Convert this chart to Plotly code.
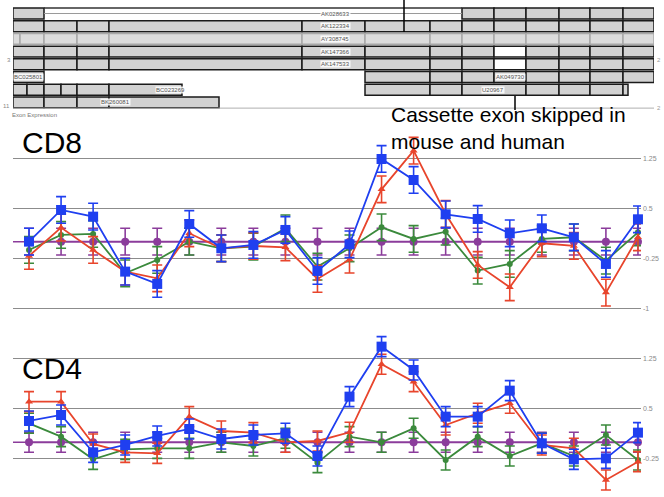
import plotly.graph_objects as go

# ---------------- exon structure (positions in relative genomic units) ----------------
tx_names = ["AK028633", "AK122334", "AY308745", "AK147366", "AK147533",
            "BC025801", "AK049730", "BC023269", "U20967", "BK260081"]
tx_rows = [1, 2, 3, 4, 5, 6, 6, 7, 7, 8]
tx_label_pos = [322, 322, 322, 322, 322, 15, 497, 157, 480, 102]
tx_exons = [
    [(0, 31), (449, 481), (481, 513), (513, 546), (546, 577), (577, 610), (610, 641)],
    [(0, 31), (31, 64), (64, 96), (96, 289), (289, 352), (352, 417), (417, 449),
     (449, 481), (481, 513), (513, 546), (546, 577), (577, 610), (610, 641)],
    [(0, 7), (7, 31), (31, 64), (64, 96), (96, 289), (289, 352), (352, 417), (417, 449),
     (449, 481), (481, 513), (513, 546), (546, 577), (577, 610), (610, 641)],
    [(0, 31), (31, 64), (64, 96), (96, 289), (289, 352), (352, 417), (417, 449),
     (449, 481), (481, 513), (513, 546), (546, 577), (577, 610), (610, 641)],
    [(0, 31), (31, 64), (64, 96), (96, 289), (289, 352), (352, 417), (417, 449),
     (449, 481), (481, 513), (513, 546), (546, 577), (577, 610), (610, 641)],
    [(0, 31)],
    [(352, 417), (417, 449), (449, 481), (481, 513), (513, 546), (546, 577), (577, 610), (610, 641)],
    [(0, 14), (14, 31), (31, 48), (48, 64), (64, 96), (96, 169)],
    [(352, 417), (417, 449), (449, 513), (513, 546), (546, 577), (577, 610), (610, 615)],
    [(0, 31), (31, 64), (64, 96), (96, 206)],
]
# transcripts that skip the cassette exon
skipped_exon = (481, 513)
skipping_tx = ["AK147366", "AK147533"]
faint_tx = ["AY308745"]
gene_span = (0, 641)

# ---------------- exon expression ----------------
exon_index = list(range(1, 21))

cd8_blue = [0.0, 0.475, 0.375, -0.45, -0.635, 0.265, -0.1, -0.05, 0.175, -0.44,
            -0.04, 1.24, 0.925, 0.41, 0.34, 0.125, 0.2, 0.065, -0.335, 0.335]
cd8_red = [-0.215, 0.21, -0.125, -0.45, -0.55, 0.125, -0.1, -0.065, -0.085, -0.56,
           -0.27, 0.785, 1.365, 0.415, -0.35, -0.685, -0.025, -0.065, -0.765, 0.065]
cd8_green = [-0.125, 0.1, 0.115, -0.475, -0.275, 0.0, -0.1, -0.075, 0.2, -0.375,
             -0.1, 0.215, 0.04, 0.15, -0.435, -0.335, 0.04, 0.065, -0.285, 0.14]
cd8_purple = [0.0] * 20
cd8_sem = 0.2

cd4_blue = [0.32, 0.41, -0.15, -0.04, 0.095, 0.2, 0.05, 0.11, 0.135, -0.205,
            0.685, 1.435, 1.085, 0.385, 0.385, 0.775, -0.015, -0.255, -0.24, 0.145]
cd4_red = [0.61, 0.61, -0.025, -0.15, -0.165, 0.385, 0.17, 0.145, 0.0, 0.02,
           0.15, 1.17, 0.91, 0.26, 0.435, 0.585, -0.04, -0.09, -0.565, -0.29]
cd4_green = [0.285, 0.085, -0.255, -0.105, -0.09, -0.09, 0.0, -0.055, 0.06, -0.305,
             0.085, 0.0, 0.21, -0.265, 0.085, -0.205, -0.015, -0.205, 0.11, -0.265]
cd4_purple = [0.0] * 20
cd4_sem = 0.15

tick_vals = [-1, -0.25, 0.5, 1.25]
tick_text = ["-1", "-0.25", "0.5", "1.25"]

W, H = 664, 497
BLUE, RED, GREEN, PURPLE = "#1f3ff0", "#e8452c", "#3b8a3c", "#8b3c9b"

fig = go.Figure()

# gene model: exons as horizontal bars
bx, bbase, by, bfill, bline = [], [], [], [], []
for name, row, exons in zip(tx_names, tx_rows, tx_exons):
    for s, e in exons:
        bx.append(e - s)
        bbase.append(s)
        by.append(row)
        skipped = name in skipping_tx and (s, e) == skipped_exon
        bfill.append("#ffffff" if skipped else ("#dcdcdc" if name in faint_tx else "#d2d2d2"))
        bline.append("#a8a8a8" if name in faint_tx else "#1a1a1a")

# intron of the first transcript
fig.add_trace(go.Scatter(x=[31, 449], y=[1, 1], mode="lines",
                         line=dict(color="#9a9a9a", width=1),
                         xaxis="x3", yaxis="y3", hoverinfo="skip", showlegend=False))
fig.add_trace(go.Scatter(x=[31, 449], y=[0.57, 0.57], mode="lines",
                         line=dict(color="#333333", width=1.5),
                         xaxis="x3", yaxis="y3", hoverinfo="skip", showlegend=False))
fig.add_trace(go.Bar(x=bx, base=bbase, y=by, orientation="h", width=0.86,
                     marker=dict(color=bfill, line=dict(color=bline, width=1.5)),
                     xaxis="x3", yaxis="y3", hoverinfo="skip", showlegend=False))
# baseline under the gene model
fig.add_trace(go.Scatter(x=list(gene_span), y=[8.45, 8.45], mode="lines",
                         line=dict(color="#b0b0b0", width=1),
                         xaxis="x3", yaxis="y3", hoverinfo="skip", showlegend=False))

for name, row, pos in zip(tx_names, tx_rows, tx_label_pos):
    fig.add_annotation(x=pos, y=row, xref="x3", yref="y3", text=name, showarrow=False,
                       font=dict(size=6, color="#555555", family="Liberation Sans"),
                       bgcolor="rgba(255,255,255,0.85)", borderpad=0)


def add_panel(values, colors, symbols, sizes, sem, xa, ya):
    for vals, col, sym, sz in zip(values, colors, symbols, sizes):
        fig.add_trace(go.Scatter(
            x=exon_index, y=vals, mode="lines+markers",
            line=dict(color=col, width=1.8),
            marker=dict(color=col, symbol=sym, size=sz),
            error_y=dict(type="constant", value=sem, color=col, thickness=1.6, width=5),
            xaxis=xa, yaxis=ya, hoverinfo="skip", showlegend=False, cliponaxis=False))


panel_colors = [PURPLE, GREEN, RED, BLUE]
panel_symbols = ["circle", "circle", "triangle-up", "square"]
panel_sizes = [8, 6, 7, 10]
add_panel([cd8_purple, cd8_green, cd8_red, cd8_blue], panel_colors, panel_symbols,
          panel_sizes, cd8_sem, "x", "y")
add_panel([cd4_purple, cd4_green, cd4_red, cd4_blue], panel_colors, panel_symbols,
          panel_sizes, cd4_sem, "x2", "y2")

# purple reference line at zero in both panels
for ya in ["y", "y2"]:
    fig.add_shape(type="line", xref="x domain" if ya == "y" else "x2 domain", yref=ya,
                  x0=0, x1=1, y0=0, y1=0, line=dict(color=PURPLE, width=1.5), layer="below")

# callout lines
fig.add_shape(type="line", xref="x3", yref="y3", x0=391, x1=391, y0=-0.07, y1=2.45,
              line=dict(color="#000000", width=1.5))
fig.add_shape(type="line", xref="x3", yref="y3", x0=502, x1=502, y0=7.5, y1=8.62,
              line=dict(color="#000000", width=1.5))

xdom = [13 / W, 641 / W]
xr = [0.5, 20.095]
axis_common = dict(showgrid=False, zeroline=False, showline=False, showticklabels=False,
                   ticks="", fixedrange=True)
yaxis_common = dict(showgrid=True, gridcolor="#8c8c8c", gridwidth=1.3, zeroline=False,
                    showline=False, ticks="", side="right", tickvals=tick_vals,
                    ticktext=tick_text, tickfont=dict(size=7, color="#8a8a8a",
                                                      family="Liberation Sans"),
                    ticklabelstandoff=1, fixedrange=True)

fig.update_layout(
    width=W, height=H, margin=dict(l=0, r=0, t=0, b=0),
    paper_bgcolor="white", plot_bgcolor="rgba(0,0,0,0)",
    font=dict(family="Liberation Sans"),
    barmode="overlay",
    xaxis=dict(domain=xdom, range=xr, anchor="y", **axis_common),
    yaxis=dict(domain=[1 - 311.6 / H, 1 - 135 / H], range=[-1.05, 1.6], anchor="x",
               **yaxis_common),
    xaxis2=dict(domain=xdom, range=xr, anchor="y2", **axis_common),
    yaxis2=dict(domain=[0, 1 - 332.3 / H], range=[-0.82, 1.65], anchor="x2",
                **yaxis_common),
    xaxis3=dict(domain=[13 / W, 654 / W], range=[0, 641], anchor="y3", **axis_common),
    yaxis3=dict(domain=[1 - 110 / H, 1], range=[8.598, -0.063], anchor="x3", **axis_common),
)


def px_x(p):
    return p / W


def px_y(p):
    return 1 - p / H


texts = [
    dict(text="CD8", x=px_x(21), y=px_y(142.5), size=30, color="#000000"),
    dict(text="CD4", x=px_x(21), y=px_y(368.5), size=30, color="#000000"),
    dict(text="Cassette exon skipped in<br>mouse and human", x=px_x(390), y=px_y(128),
         size=21, color="#000000"),
    dict(text="Exon Expression", x=px_x(11), y=px_y(115), size=6, color="#777777"),
    dict(text="3", x=px_x(6), y=px_y(60), size=6, color="#888888"),
    dict(text="11", x=px_x(2), y=px_y(106), size=6, color="#888888"),
    dict(text="2", x=px_x(656), y=px_y(60), size=6, color="#999999"),
    dict(text="2", x=px_x(656), y=px_y(108), size=6, color="#999999"),
]
for t in texts:
    fig.add_annotation(x=t["x"], y=t["y"], xref="paper", yref="paper", text=t["text"],
                       showarrow=False, xanchor="left", yanchor="middle", align="left",
                       borderpad=0,
                       font=dict(size=t["size"], color=t["color"], family="Liberation Sans"))

fig.write_html("out.html")
